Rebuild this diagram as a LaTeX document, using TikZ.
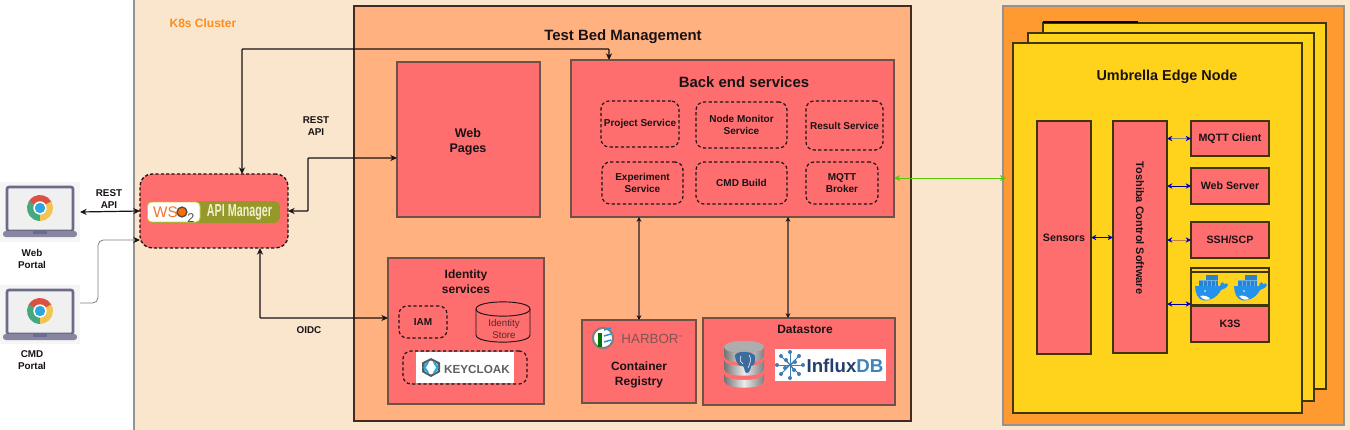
\documentclass[tikz,border=0pt]{standalone}
\usepackage{fontspec}
\setmainfont{Liberation Sans}
\usetikzlibrary{arrows.meta,shapes.geometric,calc}
\definecolor{k8sbg}{HTML}{F9E6CC}
\definecolor{tbbg}{HTML}{FFB280}
\definecolor{svc}{HTML}{FF6E6E}
\definecolor{edgeo}{HTML}{FF9A30}
\definecolor{edgey}{HTML}{FFD31C}
\definecolor{ink}{HTML}{1A1216}
\definecolor{brownline}{HTML}{6E5248}
\definecolor{olivebar}{HTML}{96982A}
\newcommand{\fsz}[1]{\fontsize{#1}{14}\selectfont}
\newcommand{\fszl}[2]{\fontsize{#1}{#2}\selectfont}
\newcommand{\pxnode}[7]{%
  \pgfmathsetmacro\pxw{(#5-#3)*0.75}\pgfmathsetmacro\pxh{(#6-#4)*0.75}%
  \pgfmathsetmacro\pxcx{(#3+#5)/2}\pgfmathsetmacro\pxcy{(#4+#6)/2}%
  \node[#1,minimum width=\pxw pt,minimum height=\pxh pt] (#2) at (\pxcx,\pxcy) {#7};}
\tikzset{
  base/.style={inner sep=0pt,outer sep=0pt,align=center,text=ink},
  svcbox/.style={base,fill=svc,draw=brownline,line width=0.9pt,font=\bfseries\fszl{7.6}{9.2}},
  edgebox/.style={base,fill=svc,draw=black!75!edgey,line width=1.1pt,font=\bfseries\fszl{8}{9.5}},
  dashbox/.style={base,draw=ink,line width=0.9pt,dash pattern=on 2.4pt off 1.8pt,rounded corners=6pt,font=\bfseries\fszl{7.5}{9}},
  card/.style={base,fill=edgey,draw=black!75!edgey,line width=1.1pt},
  lbl/.style={base,font=\bfseries\fszl{7.4}{9}},
  title/.style={base,font=\bfseries\fszl{11.2}{13}},
  conn/.style={line width=0.9pt,draw=ink,{Stealth[length=5pt,width=4.6pt]}-{Stealth[length=5pt,width=4.6pt]},rounded corners=0.5pt},
  vconn/.style={line width=0.8pt,draw=brownline,{Stealth[length=3.6pt,width=3.6pt,color=ink]}-{Stealth[length=3.6pt,width=3.6pt,color=ink]}},
  bconn/.style={line width=0.7pt,draw=#1,{Stealth[length=4pt,width=4pt,color=blue!80!black]}-{Stealth[length=4pt,width=4pt,color=blue!80!black]}},
  laptop/.pic={
    \draw[line width=2pt,draw=black!25!blue!15!gray,fill=black!6,rounded corners=1.5pt] (-33,-25) rectangle (33,19);
    \fill[fill=blue!12!gray!85,rounded corners=2pt] (-37,19) rectangle (37,25);
    \fill[fill=blue!15!gray] (-7,19) rectangle (7,22);
    \begin{scope}[shift={(0,-4)},x=0.75pt,y=0.75pt]
      \fill[fill={rgb,255:red,219;green,82;blue,66}] (0,0) -- (30:9.75pt) arc[start angle=30,end angle=150,radius=9.75pt] -- cycle;
      \fill[fill={rgb,255:red,70;green,168;blue,125}] (0,0) -- (150:9.75pt) arc[start angle=150,end angle=270,radius=9.75pt] -- cycle;
      \fill[fill={rgb,255:red,243;green,196;blue,82}] (0,0) -- (270:9.75pt) arc[start angle=270,end angle=390,radius=9.75pt] -- cycle;
      \fill[white] (0,0) circle (5pt);
      \fill[fill={rgb,255:red,46;green,165;blue,220}] (0,0) circle (3.9pt);
    \end{scope}
  },
  whale/.pic={
    \fill[fill={rgb,255:red,42;green,130;blue,205}] (-12,-6) rectangle (7,0);
    \fill[fill={rgb,255:red,42;green,130;blue,205}] (-5,-11) rectangle (7,-6);
    \foreach \xx in {-8,-4,0,4}{\draw[line width=0.25pt,draw={rgb,255:red,110;green,175;blue,230}] (\xx,-6) -- (\xx,0);}
    \draw[line width=0.25pt,draw={rgb,255:red,110;green,175;blue,230}] (-12,-6) -- (7,-6);
    \fill[fill={rgb,255:red,36;green,145;blue,235}] (-16,0) -- (9,0) .. controls (10,-4) and (12,-5) .. (13,-2) .. controls (15,-3) and (16,-3) .. (17,-1) .. controls (15,3) and (12,3) .. (10,4) .. controls (6,12) and (-2,15) .. (-7,14.5) .. controls (-13,14) and (-16,7) .. (-16,0) -- cycle;
    \fill[white] (-11,10) .. controls (-7,9) and (-3,10) .. (-1,13) .. controls (-4,14.5) and (-8,14) .. (-11,10) -- cycle;
    \fill[white] (-6,5) circle (0.7pt);
  }
}
\begin{document}
\begin{tikzpicture}[x=0.75pt,y=-0.75pt]
\useasboundingbox (0,0) rectangle (1350,429);
\fill[white] (0,0) rectangle (1350,429);
% containers
\pxnode{base,fill=k8sbg,draw=gray!85,line width=1pt}{k8s}{134}{-4}{1356}{434}{}
\node[base,text={rgb,255:red,255;green,140;blue,30},font=\bfseries\fsz{9}] (k8slabel) at (203,23) {K8s Cluster};
\pxnode{base,fill=tbbg,draw=black!75!tbbg,line width=1.2pt}{tb}{354}{6}{911}{421}{}
\node[title] (tbtitle) at (623,36.5) {Test Bed Management};
% web pages
\pxnode{svcbox}{web}{397}{62}{540}{217}{}
\node[base,font=\bfseries\fszl{9.4}{11}] (webtext) at (468,142) {Web\\Pages};
% backend
\pxnode{svcbox}{back}{571}{60}{894}{217}{}
\node[title] (backtitle) at (744,82) {Back end services};
\pxnode{dashbox}{s1}{601}{101}{679}{147}{Project Service}
\pxnode{dashbox}{s2}{696}{102}{787}{148}{Node Monitor\\Service}
\pxnode{dashbox}{s3}{806}{101}{883}{150}{Result Service}
\pxnode{dashbox}{s4}{602}{162}{683}{204}{Experiment\\Service}
\pxnode{dashbox}{s5}{696}{162}{787}{204}{CMD Build}
\pxnode{dashbox}{s6}{806}{162}{878}{204}{MQTT\\Broker}
% identity
\pxnode{svcbox}{idn}{388}{258}{544}{404}{}
\node[base,font=\bfseries\fszl{9}{11}] (idtitle) at (466,282) {Identity\\services};
\pxnode{dashbox}{iam}{399}{306}{447}{338}{IAM}
\draw[draw=ink,line width=0.7pt] (476,309) -- (476,335) .. controls (476,344.5) and (530,344.5) .. (530,335) -- (530,309);
\draw[draw=ink,line width=0.7pt] (476,309) .. controls (476,299.5) and (530,299.5) .. (530,309) .. controls (530,318.5) and (476,318.5) .. cycle;
\node[base,font=\fszl{7.3}{9},text=black!65!svc] (store) at (504,329) {Identity\\Store};
\pxnode{base,fill=white,draw=none}{kcw}{416}{352}{514}{383}{}
\pxnode{dashbox}{kc}{403}{351}{527}{384}{}
\fill[black!65] (431,358) -- (440,362.5) -- (440,372) -- (431,377) -- (422,372) -- (422,362.5) -- cycle;
\fill[white] (431,360.5) -- (437.5,364) -- (437.5,371) -- (431,374.5) -- (424.5,371) -- (424.5,364) -- cycle;
\draw[line width=1.7pt,draw={rgb,255:red,40;green,170;blue,225}] (428,362) -- (424.5,367.5) -- (428,373);
\draw[line width=1.7pt,draw={rgb,255:red,40;green,170;blue,225}] (434,362) -- (437.5,367.5) -- (434,373);
\node[base,text=black!62,font=\bfseries\fsz{8.8}] (kctext) at (477,369) {KEYCLOAK};
% harbor
\pxnode{svcbox}{reg}{582}{320}{696}{403}{}
\draw[line width=1.6pt,draw=gray,fill=white] (603,338) circle (7.6pt);
\fill[fill=green!45!black] (598,333) rectangle (602,347);
\foreach \a in {8,14,20}{\draw[line width=1.1pt,draw=blue!40!cyan!70!gray] (604,\a+322) -- (611,\a+320);}
\node[base,text=black!50!svc!60!gray,font=\fsz{10}] (harbor) at (652,339) {HARBOR\raisebox{4pt}{\fsz{3}™}};
\node[base,font=\bfseries\fszl{9}{11}] (regtitle) at (639,375) {Container\\Registry};
% datastore
\pxnode{svcbox}{ds}{703}{318}{895}{405}{}
\node[base,font=\bfseries\fsz{9}] (dstitle) at (805,329) {Datastore};
\foreach \yt/\yb in {374/381,360/369,347/356}{
  \shade[left color=black!55,right color=black!50,middle color=black!8] (724,\yt) -- (724,\yb) .. controls (724,\yb+9) and (764,\yb+9) .. (764,\yb) -- (764,\yt) .. controls (764,\yt+8) and (724,\yt+8) .. cycle;
}
\fill[fill=black!32] (724,347) .. controls (724,339) and (764,339) .. (764,347) .. controls (764,355) and (724,355) .. cycle;
\fill[fill={rgb,255:red,60;green,108;blue,158}] (735,356) .. controls (734,351) and (752,350) .. (755,356) .. controls (756,362) and (754,366) .. (751,366) .. controls (751,369) and (749,373) .. (747,373) .. controls (744,373) and (745,368) .. (743,366) .. controls (740,367) and (736,364) .. cycle;
\draw[line width=0.4pt,white] (741,356) .. controls (739,360) and (741,363) .. (743,364);
\draw[line width=0.4pt,white] (749,355) .. controls (752,358) and (750,364) .. (748,368);
\pxnode{base,fill=white,draw=none}{influx}{775}{349}{886}{381}{}
\begin{scope}[shift={(790,365)}]
  \foreach \px/\py in {0/-13,9/-9,-9/-9,13/0,-13/0,9/9,-9/9,0/13,5/-3,-5/3,-4/-5,4/5}{
    \draw[line width=0.7pt,draw={rgb,255:red,62;green,125;blue,178}] (0,0) -- (\px,\py);
    \fill[fill={rgb,255:red,62;green,125;blue,178}] (\px,\py) circle (1.5pt);
  }
\end{scope}
\node[base,font=\bfseries\fsz{14}] (influxtext) at (845,366) {\textcolor[HTML]{233F6E}{Influx}\textcolor[HTML]{3D85BA}{DB}};
% edge
\pxnode{base,fill=edgeo,draw=gray!85,line width=1pt}{edge}{1003}{6}{1344}{425}{}
\pxnode{card}{c3}{1043}{23}{1326}{389}{}
\draw[line width=1.4pt,black] (1043,22) -- (1138,22);
\pxnode{card}{c2}{1028}{33}{1314}{401}{}
\pxnode{card}{c1}{1013}{43}{1302}{413}{}
\node[base,font=\bfseries\fsz{10.8}] (edgetitle) at (1167,76.5) {Umbrella Edge Node};
\pxnode{edgebox}{sens}{1037}{121}{1091}{354}{Sensors}
\pxnode{edgebox}{tosh}{1113}{121}{1167}{353}{}
\node[base,rotate=-90,font=\bfseries\fsz{8.2}] (toshtext) at (1140,228) {Toshiba Control Software};
\pxnode{edgebox}{mqtt}{1191}{121}{1269}{156}{MQTT Client}
\pxnode{edgebox}{wsrv}{1191}{168}{1269}{204}{Web Server}
\pxnode{edgebox}{ssh}{1191}{222}{1269}{258}{SSH/SCP}
\pxnode{base,draw=black!75!edgey,line width=1.1pt}{dock}{1191}{268}{1269}{305}{}
\draw[line width=1.1pt,draw=black!75!edgey] (dock.west |- 0,272) -- (dock.east |- 0,272);
\pic at (1211,286) {whale};
\pic at (1250,286) {whale};
\pxnode{edgebox}{k3s}{1191}{306}{1269}{342}{K3S}
% api manager
\pxnode{base,fill=svc,draw=ink,line width=1pt,dash pattern=on 2.4pt off 1.6pt,rounded corners=9pt}{api}{140}{174}{288}{248}{}
\fill[fill=olivebar,rounded corners=4pt] (147,201) rectangle (280,223);
\draw[fill=white,draw=yellow!50!olivebar,line width=0.7pt,rounded corners=3pt] (147.5,202) rectangle (200,222);
\node[base,text={rgb,255:red,238;green,120;blue,50},font=\fsz{11.5}] (wso) at (165.5,212) {WS};
\draw[line width=1pt,draw=black!70,fill=orange!85!red] (182,212) circle (3.7pt);
\node[base,text=black!70,font=\fsz{9.5}] (wsotwo) at (191,218) {2};
\node[base,text={rgb,255:red,240;green,240;blue,205}] (apitext) at (239.5,212) {\scalebox{0.62}[1]{\bfseries\fsz{13}API Manager}};
% portals
\pxnode{base,fill=black!4,draw=none}{wp}{0}{182}{80}{242}{}
\pic at (40,212) {laptop};
\pxnode{base,fill=black!4,draw=none}{cp}{0}{285}{80}{344}{}
\pic at (40,315) {laptop};
\node[lbl] (wpl) at (32,259) {Web\\Portal};
\node[lbl] (cpl) at (32,360) {CMD\\Portal};
% labels
\node[lbl] (rest1) at (109,199) {REST\\API};
\node[lbl] (rest2) at (316,126) {REST\\API};
\node[lbl] (oidc) at (309,330) {OIDC};
% connectors
\draw[conn] (wp.east) -- (api.west);
\draw[line width=0.6pt,draw=gray,rounded corners=4pt,-{Stealth[length=5pt,width=4.6pt,color=ink]}] (cp.east |- 0,303) -- (98,303) -- (98,240) -- (api.west |- 0,240);
\draw[conn] (api.north -| 242,0) -- (242,49) -- (609,49) -- (back.north -| 609,0);
\draw[conn] (api.east) -- (308,211) -- (308,158) -- (web.west |- 0,158);
\draw[conn] (api.south -| 260,0) -- (260,318) -- (idn.west |- 0,318);
\draw[vconn] (back.south -| 639,0) -- (reg.north -| 639,0);
\draw[vconn] (back.south -| 788,0) -- (ds.north -| 788,0);
\draw[line width=0.7pt,draw={rgb,255:red,90;green,200;blue,10},{Stealth[length=4.6pt,width=4.4pt]}-{Stealth[length=4.6pt,width=4.4pt]}] (back.east |- 0,178) -- (1006,178);
\draw[bconn=gray] (tosh.east |- mqtt.east) -- (mqtt.west);
\draw[bconn=blue!60!black] (tosh.east |- wsrv.east) -- (wsrv.west);
\draw[bconn=brown] (tosh.east |- ssh.east) -- (ssh.west);
\draw[bconn=blue!60!black] (tosh.east |- 0,304) -- (dock.west |- 0,304);
\draw[bconn=blue!60!black] (sens.east) -- (tosh.west |- sens.east);
\end{tikzpicture}
\end{document}
